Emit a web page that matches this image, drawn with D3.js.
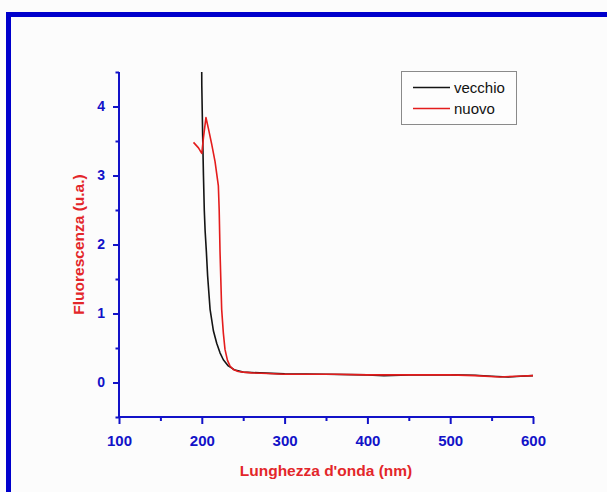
<!DOCTYPE html>
<html>
<head>
<meta charset="utf-8">
<script src="https://cdn.jsdelivr.net/npm/d3@7"></script>
<style>
  html, body { margin: 0; padding: 0; background: #fcfcfc; }
  svg { display: block; }
  text { font-family: "Liberation Sans", Arial, sans-serif; }
</style>
</head>
<body>
<script>
// ---- data ----
const seriesNames = ["vecchio", "nuovo"];
const vecchioX = [199.6, 200, 201, 202, 203, 204, 205.5, 207, 210, 214, 218, 222, 226, 232, 240, 250, 270, 300, 350, 400, 420, 450, 500, 530, 550, 570, 585, 600];
const vecchioY = [5.2, 4.3, 3.6, 3.0, 2.5, 2.2, 1.9, 1.55, 1.06, 0.75, 0.57, 0.43, 0.33, 0.24, 0.18, 0.15, 0.14, 0.125, 0.12, 0.11, 0.10, 0.11, 0.11, 0.105, 0.09, 0.08, 0.09, 0.10];
const nuovoX = [190, 193, 196, 199, 200, 202, 205, 208, 212, 216, 220, 221, 222, 224, 226, 228, 231, 234, 238, 244, 250, 260, 280, 300, 330, 360, 400, 430, 460, 500, 530, 560, 580, 600];
const nuovoY = [3.48, 3.44, 3.40, 3.34, 3.32, 3.55, 3.84, 3.68, 3.45, 3.2, 2.85, 2.5, 1.9, 1.06, 0.72, 0.48, 0.32, 0.24, 0.19, 0.16, 0.15, 0.14, 0.13, 0.12, 0.12, 0.12, 0.11, 0.11, 0.11, 0.11, 0.10, 0.08, 0.09, 0.10];
const xMajorTicks = [100, 200, 300, 400, 500, 600];
const xMinorTicks = [150, 250, 350, 450, 550];
const yMajorTicks = [0, 1, 2, 3, 4];
const yMinorTicks = [-0.5, 0.5, 1.5, 2.5, 3.5, 4.5];
const xTitle = "Lunghezza d'onda (nm)";
const yTitle = "Fluorescenza (u.a.)";

// ---- layout ----
const W = 607, H = 492;
const pL = 119, pR = 533, pT = 72, pB = 417;
const axisBlue = "#1212c8";
const titleRed = "#e3262a";

const svg = d3.select("body").append("svg").attr("width", W).attr("height", H);

// frame (blue border on top and left)
svg.append("rect").attr("x", 6).attr("y", 12).attr("width", W - 6).attr("height", 5).attr("fill", "#0000cc");
svg.append("rect").attr("x", 6).attr("y", 12).attr("width", 5).attr("height", H - 12).attr("fill", "#0000cc");

const x = d3.scaleLinear().domain([100, 600]).range([pL, pR]);
const y = d3.scaleLinear().domain([-0.5, 4.5]).range([pB, pT]);

// clip
svg.append("clipPath").attr("id", "clip").append("rect")
  .attr("x", pL).attr("y", pT).attr("width", pR - pL).attr("height", pB - pT);

// lines
const line = d3.line().x(d => x(d[0])).y(d => y(d[1]));
const vecchio = vecchioX.map((v, i) => [v, vecchioY[i]]);
const nuovo = nuovoX.map((v, i) => [v, nuovoY[i]]);
const g = svg.append("g").attr("clip-path", "url(#clip)");
g.append("path").datum(vecchio).attr("d", line).attr("fill", "none").attr("stroke", "#141414").attr("stroke-width", 1.6).attr("stroke-linejoin", "round");
g.append("path").datum(nuovo).attr("d", line).attr("fill", "none").attr("stroke", "#e41c1c").attr("stroke-width", 1.6).attr("stroke-linejoin", "round");

// axes
function styleAxis(sel) {
  sel.select(".domain").remove();
  sel.selectAll("line").attr("stroke", axisBlue).attr("stroke-width", 2);
  sel.selectAll("text").attr("fill", axisBlue).attr("font-weight", "bold");
}
const xAxisG = svg.append("g").attr("transform", `translate(0,${pB})`)
  .call(d3.axisBottom(x).tickValues(xMajorTicks).tickSize(7).tickPadding(11).tickFormat(d3.format("d")));
styleAxis(xAxisG);
xAxisG.selectAll("text").attr("font-size", 15);
const xMinorG = svg.append("g").attr("transform", `translate(0,${pB})`)
  .call(d3.axisBottom(x).tickValues(xMinorTicks).tickSize(4).tickFormat(""));
styleAxis(xMinorG);

const yAxisG = svg.append("g").attr("transform", `translate(${pL},0)`)
  .call(d3.axisLeft(y).tickValues(yMajorTicks).tickSize(6).tickPadding(8).tickFormat(d3.format("d")));
styleAxis(yAxisG);
yAxisG.selectAll("text").attr("font-size", 14);
const yMinorG = svg.append("g").attr("transform", `translate(${pL},0)`)
  .call(d3.axisLeft(y).tickValues(yMinorTicks).tickSize(3.5).tickFormat(""));
styleAxis(yMinorG);

// axis lines
svg.append("line").attr("x1", pL).attr("x2", pL).attr("y1", pT).attr("y2", pB + 1)
  .attr("stroke", axisBlue).attr("stroke-width", 2);
svg.append("line").attr("x1", pL - 1).attr("x2", pR + 1).attr("y1", pB).attr("y2", pB)
  .attr("stroke", axisBlue).attr("stroke-width", 2);

// titles
svg.append("text").attr("x", (pL + pR) / 2).attr("y", 476).attr("text-anchor", "middle")
  .attr("font-size", 15.5).attr("font-weight", "bold").attr("fill", titleRed).text(xTitle);
svg.append("text").attr("transform", `translate(84,${(pT + pB) / 2}) rotate(-90)`).attr("text-anchor", "middle")
  .attr("font-size", 15.5).attr("font-weight", "bold").attr("fill", titleRed).text(yTitle);

// legend
const lg = svg.append("g");
lg.append("rect").attr("x", 401.5).attr("y", 71.5).attr("width", 115).attr("height", 53)
  .attr("fill", "#fdfdfd").attr("stroke", "#8a8a8a").attr("stroke-width", 1);
const legColors = ["#141414", "#e41c1c"];
seriesNames.forEach((name, i) => {
  const yy = 87.5 + i * 21;
  lg.append("line").attr("x1", 413).attr("x2", 450).attr("y1", yy).attr("y2", yy)
    .attr("stroke", legColors[i]).attr("stroke-width", 1.6);
  lg.append("text").attr("x", 454).attr("y", yy + 5).attr("font-size", 15).attr("fill", "#111").text(name);
});
</script>
</body>
</html>
